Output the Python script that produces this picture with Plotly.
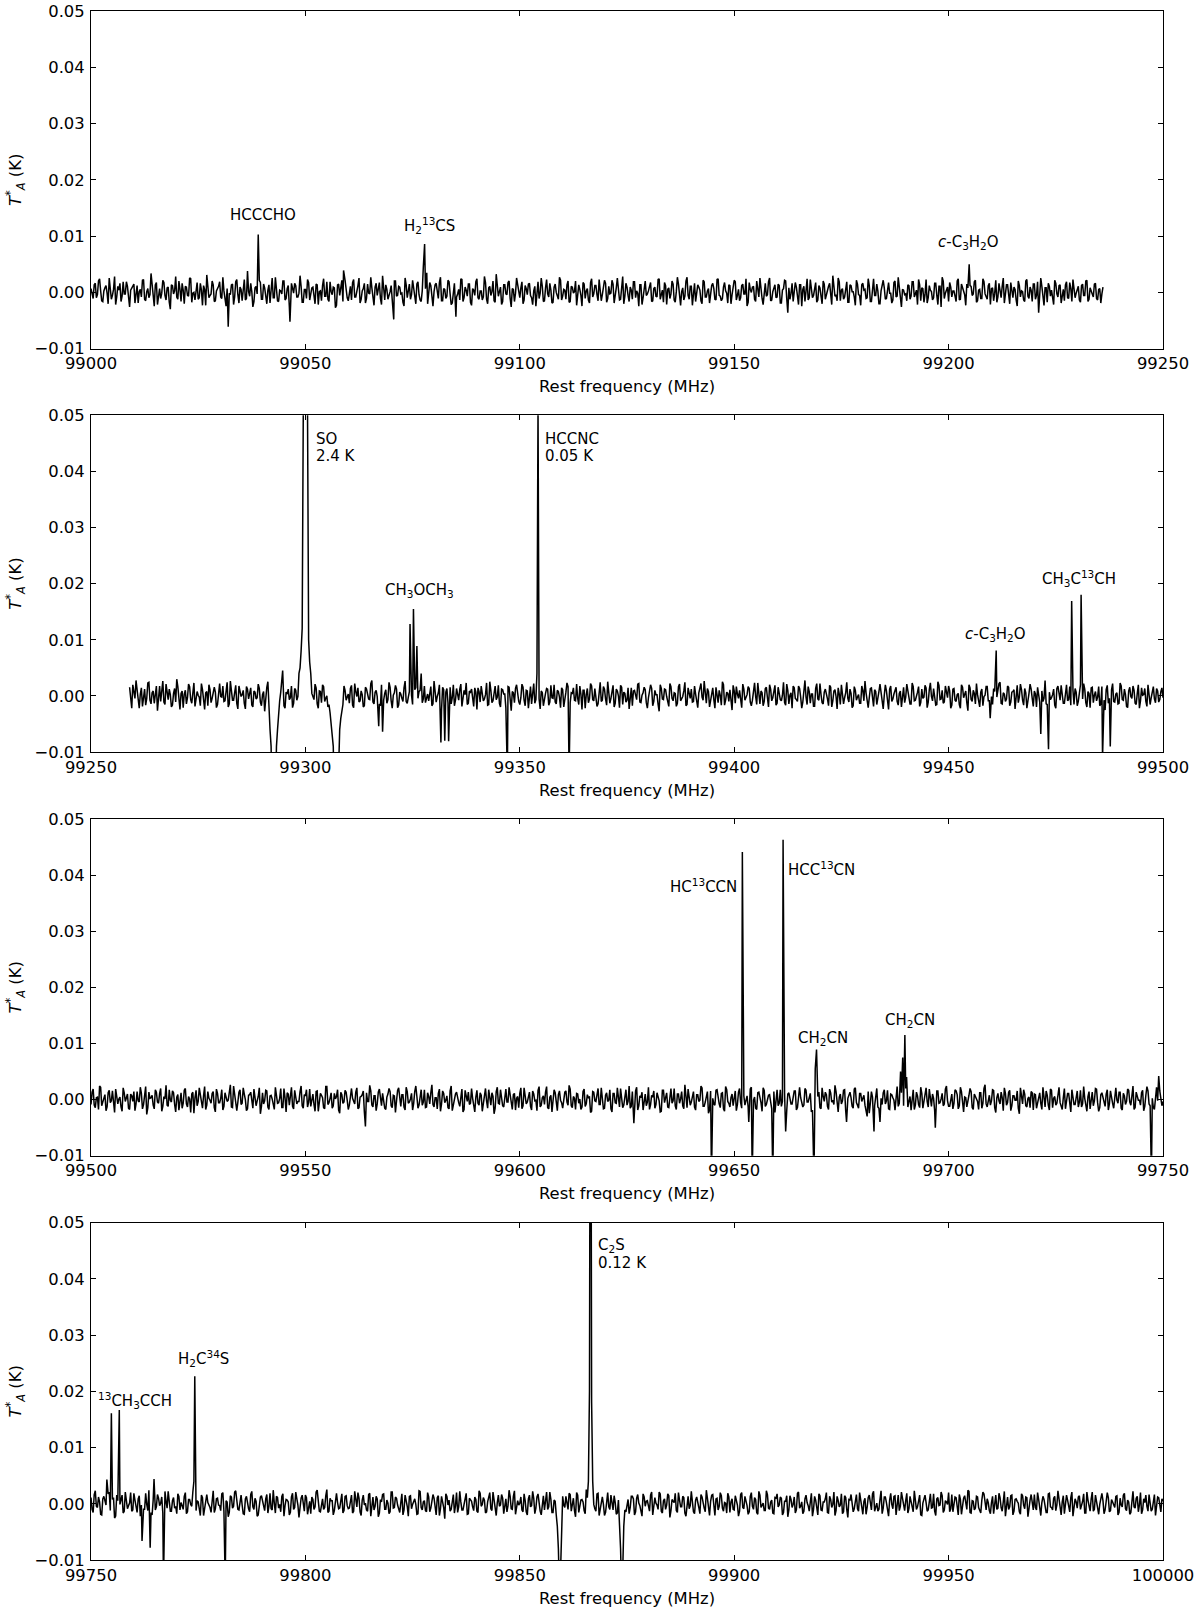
import plotly.graph_objects as go
from plotly.subplots import make_subplots

STEP = 0.5       # MHz spacing within each baseline array
OFFSET = 0.25    # the "b" arrays sit half a step after the "a" arrays

# ---------------- Panel 1 : 99000 - 99250 MHz ----------------
p1_unit = 1.35e-4   # K per baseline count
p1_start = 99000.0
p1_noise_a = [
 5,-8,12,-3,18,-11,2,9,-15,7,-4,21,-6,3,-12,14,-2,8,-19,6,
 11,-5,-14,4,16,-9,1,-7,25,-3,10,-16,5,-1,13,-10,7,-22,9,2,
 -6,15,-12,3,8,-4,19,-13,0,6,-9,12,-17,4,23,-7,-2,10,-11,5,
 14,-8,2,-18,9,-3,11,-6,17,-14,4,7,-10,28,-5,1,-12,8,-4,13,
 -9,6,-15,10,2,-7,20,-11,3,-2,15,-8,9,-19,5,12,-6,-1,8,-13,
 4,17,-10,6,-3,11,-16,2,9,-5,14,-12,1,7,-20,10,-4,16,-8,3,
 -11,8,13,-6,0,19,-9,5,-14,11,-2,6,-17,12,3,-8,22,-10,4,-5,
 9,-13,15,-4,7,-1,-18,10,2,-9,16,-6,11,-3,-12,8,5,-15,13,-7,
 1,12,-8,20,-11,4,-5,14,-16,6,9,-2,-10,17,-7,3,11,-13,5,-4,
 18,-9,2,-6,13,-15,8,1,-11,24,-5,7,-12,10,-3,15,-19,4,-1,9,
 -7,14,-10,5,11,-4,-16,8,3,-8,19,-12,6,-2,12,-14,7,0,-9,16,
 -5,3,10,-13,8,-1,15,-7,4,-18,11,2,-10,13,-6,9,-3,17,-11,5,
 12,-8,-2,16,-14,6,1,-9,21,-5,7,-12,3,14,-7,-1,10,-16,8,-4,
 2,13,-11,7,-6,18,-3,-13,9,4,-8,15,-10,1,11,-17,6,-5,20,-9,
 8,-2,-12,10,3,-15,14,-6,5,-1,12,-9,17,-4,-11,7,2,-14,9,-3,
 16,-10,4,-7,11,-2,-18,13,0,8,-12,6,19,-8,3,-5,14,-11,1,10,
 -6,9,-14,5,15,-3,-9,12,-1,7,-16,10,4,-12,18,-7,2,-4,13,-10,
 6,-15,11,-2,8,-8,22,-5,-11,14,3,-9,7,-13,10,1,-6,16,-3,-17,
 12,4,-7,9,-12,18,-4,2,-15,11,6,-8,13,-1,-10,15,-5,8,-19,3,
 -2,10,-9,14,-6,3,17,-11,5,-3,-14,9,1,-7,12,-16,8,20,-8,4,
 -12,7,2,-5,15,-10,11,-1,-17,6,9,-4,14,-13,3,-8,18,-2,-9,12,
 5,-11,16,-6,1,8,-14,10,-3,13,-7,4,-18,9,2,-10,15,-5,7,-12,
 11,-4,-9,19,-2,6,-13,8,3,-16,12,-6,10,-1,-11,14,-8,5,17,-7,
 3,-10,9,-4,15,-12,6,-2,11,-8,4,-14,7,
]
p1_noise_b = [
 -3,10,-7,15,2,-12,6,-1,19,-9,4,-16,8,12,-5,-2,14,-10,3,7,
 -14,9,1,-6,17,-11,5,-3,11,-18,13,0,-8,16,-4,6,-13,10,-2,21,
 -9,4,12,-15,7,-5,18,-1,-10,13,-7,3,9,-17,11,-4,15,-12,2,8,
 -6,20,-13,5,-1,10,-16,14,-3,7,-11,17,-8,1,12,-19,6,-2,16,-9,
 11,-4,3,-14,19,-7,8,-12,2,15,-10,5,-18,12,-1,9,-6,22,-13,4,
 -8,13,-2,7,-15,10,1,-11,18,-5,-9,14,-3,6,-17,11,4,-12,16,-7,
 3,-10,17,-6,9,-14,2,12,-8,-1,20,-11,7,-4,13,-16,5,10,-9,1,
 -12,15,-5,8,-2,-13,19,-7,11,-3,6,-15,14,-10,2,17,-6,-1,9,-18,
 10,-3,13,-11,5,-8,16,-2,-14,12,-6,4,18,-12,7,-5,11,-17,3,14,
 -7,2,-10,21,-9,6,-4,15,-13,8,1,-16,10,-2,13,-8,5,-12,19,-4,
 6,-15,9,-3,12,-7,2,-18,14,-1,8,-11,17,-6,3,-13,11,-5,20,-10,
 4,-9,15,-12,7,1,-17,10,-4,13,-8,5,-14,18,-2,9,-11,6,-3,16,
 -13,8,-1,11,-6,19,-10,3,-15,12,-4,7,-9,14,2,-18,10,-7,15,-2,
 9,-12,5,-5,17,-9,3,13,-16,6,-2,11,-13,20,-7,1,-10,15,-4,8,
 -17,12,-3,7,-11,16,-6,2,-14,9,5,-10,18,-5,-8,13,-1,10,-15,6,
 14,-4,-11,9,-2,18,-13,4,7,-9,15,-6,1,-16,12,-3,19,-10,5,-7,
 11,-14,3,16,-8,6,-1,-12,13,-5,10,-18,8,2,-10,17,-7,4,-13,9,
 -5,15,-9,2,12,-16,7,-3,19,-11,5,-6,14,-13,9,1,-17,11,-4,10,
 3,-8,18,-12,6,-4,11,-15,2,16,-9,7,-1,-14,13,-6,20,-10,4,-3,
 -11,9,-5,14,-2,-16,10,6,-13,17,-7,3,-10,12,-4,8,-19,15,-1,7,
 13,-6,2,-12,18,-9,5,-3,11,-14,8,-2,16,-11,4,-8,14,-5,9,-16,
 6,-1,-13,12,-7,19,-4,10,-15,3,7,-10,15,-6,1,-12,17,-8,3,11,
 -9,14,-3,8,-17,6,12,-5,-11,16,-2,9,-14,4,10,-7,13,-12,5,-1,
 8,-13,11,-4,16,-9,3,-6,12,-10,5,-2,
]
p1_line_freq = [99032.0, 99039.0, 99046.4, 99058.9, 99070.6, 99077.5, 99077.8, 99078.3,
                99085.1, 99162.5, 99204.8, 99221.0]
p1_line_val = [-0.0061, 0.0103, -0.0052, 0.0039, -0.0048, 0.0045, 0.0086, 0.0035,
               -0.0043, -0.0036, 0.0050, -0.0036]

# ---------------- Panel 2 : 99250 - 99500 MHz ----------------
p2_unit = 1.1e-4
p2_start = 99259.0
p2_noise_a = [
 14,-20,6,25,-9,3,-17,11,-4,22,-13,8,-1,-24,16,5,-10,19,-6,2,
 -15,12,27,-8,4,-19,9,-3,15,-12,21,-5,1,-16,10,-22,7,18,-11,3,
 6,-14,20,-2,-9,13,-18,24,-7,5,-12,16,-1,9,-21,11,3,-15,8,-5,
 19,-10,2,-25,14,-4,8,17,-13,1,-8,23,-16,6,11,-3,-19,12,-7,15,
 -2,9,-17,26,-11,4,-6,13,-20,7,18,-9,0,-14,21,-4,10,-12,5,-23,
 16,-7,3,12,-15,20,-1,-10,8,-18,14,2,-6,25,-13,9,-3,-16,11,4,
 -12,22,-8,1,17,-19,6,-4,13,-9,-2,19,-14,10,-21,7,15,-5,-11,3,
 8,-16,24,-10,5,-3,14,-20,12,0,-13,18,-7,-1,11,-17,9,21,-12,6,
 -4,13,-22,7,16,-8,2,-15,23,-11,4,-6,17,-18,10,3,-9,14,-24,5,
 12,-2,-14,19,-7,9,-20,15,1,-12,26,-5,8,-16,4,11,-10,-3,18,-13,
 7,-19,10,-1,21,-15,5,13,-8,-4,16,-22,9,2,-11,20,-6,12,-17,3,
 -9,15,-5,23,-12,6,-18,11,0,17,-14,4,-7,-21,13,8,-2,19,-10,1,
 14,-11,-3,18,-16,9,2,-25,12,-6,10,-13,20,-4,5,-17,15,-8,-1,22,
 -14,6,11,-9,3,-19,16,-2,24,-12,7,-5,13,-20,1,9,-15,18,-7,4,
 10,-23,8,15,-4,-11,19,-7,2,12,-16,6,-1,21,-13,5,-9,14,-18,11,
 -3,17,-12,4,-8,22,-15,9,1,-20,13,-6,16,-2,-10,25,-14,7,3,-17,
 12,-5,20,-11,6,-1,-16,14,-8,10,-21,3,18,-13,5,-4,11,-19,15,-7,
 2,-12,9,24,-10,-3,13,-17,7,-6,19,-14,1,8,-22,16,-5,11,-9,4,
 -18,14,-2,6,-13,21,-8,3,15,-11,-4,17,-19,10,-1,12,-15,23,-6,9,
 -10,5,16,-20,11,-7,2,-14,18,-3,8,-24,13,-9,4,20,-12,6,-16,1,
 15,-8,-1,12,-17,9,22,-13,3,-5,14,-10,7,-21,17,-2,10,-15,5,-11,
 19,-4,8,-18,2,13,-9,25,-14,6,-3,11,-20,16,-7,1,-12,18,-6,-15,
 9,12,-16,4,-2,20,-11,7,-19,14,1,-8,15,-13,5,-23,17,-4,10,-9,
 3,-13,21,-6,11,-17,8,-1,16,-12,4,-20,13,2,-9,18,-14,6,-5,12,
 -10,7,-3,
]
p2_noise_b = [
 -11,18,-4,9,-20,13,2,-15,21,-7,5,-12,16,-3,-9,24,-14,6,11,-18,
 4,-10,15,-22,8,3,-13,19,-6,12,-17,7,-2,20,-11,5,-16,10,-4,14,
 -19,11,-1,16,-8,22,-13,4,-7,17,-21,9,2,-12,15,-5,13,-18,6,-3,
 12,-16,7,-4,23,-10,1,-14,18,-9,6,13,-20,3,-6,16,-12,9,-1,-15,
 21,-6,10,-17,4,-2,19,-13,8,-11,15,-4,-18,12,5,-9,22,-7,3,-14,
 9,-3,-12,17,-19,7,13,-8,2,-16,11,-5,20,-10,6,-1,-13,18,-7,10,
 -6,14,-20,5,11,-15,3,-9,24,-12,7,1,-17,13,-4,9,-11,16,-2,-8,
 15,-13,4,-1,18,-22,10,6,-11,14,-3,-16,12,-7,19,-5,2,-14,8,11,
 -17,6,13,-10,2,-5,21,-14,9,-8,16,-2,-12,11,3,-19,15,-6,7,-11,
 18,-9,-3,14,-16,8,1,-13,20,-6,10,-21,5,-1,12,-15,17,-4,-10,9,
 -2,13,-18,6,15,-11,4,-7,19,-14,3,9,-20,12,-5,16,-8,1,-13,22,
 -7,11,-15,3,-4,17,-12,8,-19,14,6,-10,13,-2,-16,9,-6,20,-11,5,
 10,-20,7,12,-9,2,-14,18,-5,11,-1,-17,15,-8,4,-12,19,-3,8,-16,
 13,-4,-10,16,-13,5,20,-7,-2,12,-18,9,-6,14,-11,1,23,-15,6,-9,
 -5,17,-12,3,9,-19,11,-1,15,-10,-7,21,-14,4,8,-16,12,-3,18,-8,
 7,-15,14,-6,1,-11,19,-13,5,16,-4,-9,12,-20,10,-2,15,-12,3,-17,
 20,-7,2,-13,11,-5,17,-18,8,-1,13,-14,6,-3,22,-10,4,-16,9,-2,
 -12,16,-8,5,-19,12,-3,10,-14,7,2,-21,18,-6,11,-9,3,14,-15,8,
 4,-11,19,-4,-13,15,-7,6,-17,11,-2,13,-10,21,-8,1,-14,17,-5,-12,
 16,-3,8,-15,12,-9,4,-20,14,3,-11,18,-6,9,-13,2,-18,11,-1,15,
 -8,13,-14,7,-2,20,-12,5,-9,16,-16,6,10,-5,-11,19,-7,12,-20,4,
 11,-17,3,14,-10,8,-4,-13,21,-6,2,-15,12,-1,17,-12,9,-8,15,-3,
 -14,6,-9,18,-5,11,-18,4,13,-11,7,-2,-16,15,-7,10,-12,3,20,-10,
 5,-12,16,-7,2,-19,14,-4,9,-14,18,-8,1,12,-17,6,-3,15,-11,8,
 -6,13,
]
p2_line_freq = [
    99291.5, 99291.75, 99292.0, 99292.25, 99292.5, 99292.75, 99293.0, 99293.25, 99293.5, 99293.75,
    99294.7,
    99298.5, 99298.75, 99299.0, 99299.25, 99299.5, 99299.75, 99300.0, 99300.25, 99300.5, 99300.75,
    99301.0, 99301.25,
    99305.75, 99306.0, 99306.25, 99306.5, 99306.75, 99307.0, 99307.25, 99307.5, 99307.75, 99308.0,
    99308.25,
    99317.1, 99318.0, 99324.4, 99325.2, 99326.0, 99327.0,
    99331.6, 99332.5, 99333.4, 99347.1, 99354.0, 99354.25, 99361.5,
    99459.7, 99461.1, 99471.5, 99473.3, 99478.7, 99480.9, 99485.9, 99487.7]
p2_line_val = [
    -0.004, -0.006, -0.009, -0.02, -0.04, -0.04, -0.02, -0.009, -0.006, -0.003,
    0.0045,
    0.004, 0.005, 0.008, 0.012, 0.05, 0.5, 2.4, 0.5, 0.05, 0.01,
    0.006, 0.004,
    -0.003, -0.005, -0.007, -0.009, -0.02, -0.04, -0.04, -0.02, -0.01, -0.006,
    -0.004,
    -0.0054, -0.0064, 0.0128, 0.0155, 0.0089, 0.004,
    -0.0083, -0.0080, -0.0081, -0.014, 0.004, 0.052, -0.014,
    -0.004, 0.0081, -0.0068, -0.0095, 0.0169, 0.0180, -0.011, -0.0090]

# ---------------- Panel 3 : 99500 - 99750 MHz ----------------
p3_unit = 1.1e-4
p3_start = 99500.0
p3_noise_a = [
 -8,17,-13,4,22,-10,2,-18,11,-5,14,-21,7,1,-12,19,-3,9,-16,6,
 13,-7,-2,20,-15,8,-24,12,3,-9,16,-4,10,-19,5,23,-11,-1,14,-8,
 4,-17,11,-6,18,-12,1,9,-22,15,-3,7,-14,21,-9,2,-6,13,-20,10,
 -5,16,-11,3,-1,24,-13,6,-18,12,-8,19,0,-15,8,-4,17,-10,5,-23,
 11,-2,14,-16,7,-9,20,-6,2,-13,18,-20,9,4,-11,15,-7,-3,22,-14,
 6,-12,17,-1,-8,13,-19,10,3,-15,21,-5,11,-10,1,16,-22,8,-4,12,
 -16,9,2,-7,19,-13,5,14,-11,-3,23,-9,6,-18,12,-1,10,-14,4,18,
 -10,7,-21,15,-2,8,-12,20,-6,1,-17,13,5,-9,16,-4,-13,11,-7,24,
 -12,3,10,-19,14,-5,6,-15,22,-8,9,-1,-11,17,-16,4,12,-6,2,-20,
 15,-9,7,-3,18,-14,1,11,-23,13,-6,16,-10,3,-4,20,-12,8,-17,5,
 10,-15,19,-7,2,-11,14,-2,-18,21,-9,6,12,-13,4,-20,16,-5,8,-1,
 -14,12,-4,23,-10,5,-16,9,1,-12,17,-7,3,-21,13,-2,11,-8,19,-15,
 7,-3,16,-20,10,-6,2,18,-13,5,-9,22,-11,-1,14,-17,6,12,-5,-10,
 20,-8,4,-14,11,-2,-19,15,7,-12,3,-6,18,-16,9,1,-10,24,-13,6,
 -4,13,-17,8,-1,19,-11,5,-22,14,2,-9,16,-7,10,-15,21,-3,-12,9,
 3,-18,12,-5,17,-9,6,-13,20,-1,-14,11,4,-19,15,-8,7,-2,13,-21,
 16,-6,-11,22,-15,9,1,-7,14,-17,10,3,-12,18,-4,6,-20,12,-9,5,
 -13,19,-3,8,-16,11,-1,23,-10,4,-7,15,-18,2,12,-11,17,-5,-14,10,
 1,-9,14,-22,13,-4,7,-12,19,-8,16,-2,-15,9,3,-17,21,-6,11,-10,
 18,-12,5,-1,-16,12,-8,20,-14,6,-3,17,-11,2,-19,14,-5,10,-7,22,
 -11,4,-15,16,8,-10,13,-20,3,-4,18,-13,9,1,-16,11,-6,24,-12,7,
 -2,15,-21,10,-7,3,19,-9,12,-18,6,-1,14,-23,8,16,-10,2,-13,11,
 9,-14,4,-6,20,-12,7,-17,15,2,-9,13,-5,-16,18,-3,10,-20,6,-8,
 14,-4,-12,21,-10,5,-15,12,-2,17,-19,8,3,-11,16,-7,1,-14,19,-6,
 12,-17,6,-3,15,-9,22,-13,4,-1,11,-18,7,14,-10,2,-16,20,-8,5,
 -3,
]
p3_noise_b = [
 12,-9,3,-16,20,-5,8,-12,15,-2,-10,17,-7,4,-19,11,6,-14,9,-3,
 -18,13,-4,10,-8,21,-13,2,7,-15,12,-6,18,-11,1,-9,16,-4,11,-20,
 8,-2,-14,15,-7,5,-21,12,3,-10,19,-8,6,-16,13,-1,10,-13,17,-5,
 2,-17,11,-3,14,-12,22,-9,-4,16,-6,9,-18,7,12,-14,4,-2,19,-11,
 -7,15,-12,6,1,-16,10,-5,18,-13,3,11,-9,20,-15,5,-3,13,-10,8,
 16,-4,-11,9,-19,14,-2,7,-13,21,-8,2,-14,10,5,-17,12,-6,15,-1,
 -9,18,-5,12,-15,4,8,-20,11,-3,14,-12,6,-7,17,-10,1,-16,9,13,
 -13,6,-2,19,-11,8,-17,13,-4,10,-6,22,-14,3,-9,16,-12,5,11,-8,
 3,-15,17,-7,10,-1,-13,14,-18,6,12,-5,9,-20,15,-3,-8,18,-11,4,
 -6,11,-19,13,-2,16,-9,5,-14,20,-7,1,-12,17,-4,8,-16,10,2,-13,
 19,-10,6,-4,12,-17,9,-1,15,-12,3,-8,21,-15,7,-2,11,-18,14,-5,
 -3,14,-9,17,-13,2,10,-6,-16,13,-11,8,4,-19,12,-3,18,-8,6,-14,
 11,-1,-15,10,-5,19,-12,6,-9,16,-3,-14,13,-7,20,-10,3,-17,9,-4,
 -16,7,14,-8,2,-20,15,-5,11,-13,18,-2,-10,9,-6,13,-15,4,17,-9,
 5,-12,8,-3,22,-11,-4,13,-17,10,-7,15,-1,-13,11,-19,16,-6,3,-10,
 14,-8,18,-14,6,-2,-12,17,-9,4,-16,12,-5,19,-11,1,8,-15,13,-6,
 -10,16,-3,9,-18,11,-7,2,14,-13,20,-6,-9,15,-4,10,-17,7,-1,12,
 -15,5,12,-11,17,-4,-8,13,-20,9,-2,16,-12,6,3,-14,19,-9,10,-3,
 7,-19,13,-6,4,-10,18,-14,2,11,-7,15,-16,8,-1,12,-11,21,-5,-8,
 13,-3,-17,16,-9,6,-13,10,-4,19,-12,3,9,-18,14,-6,1,-10,17,-2,
 -11,9,-6,14,-15,20,-8,4,-12,7,13,-16,5,-3,11,-14,18,-7,2,-9,
 16,-13,3,-2,12,-18,10,-5,15,-10,6,-1,-14,19,-7,9,-12,4,13,-17,
 8,-4,11,-16,1,14,-9,17,-13,5,-6,20,-11,3,-15,10,-2,16,-8,6,
 -12,15,-7,2,-19,13,4,-10,18,-5,-13,11,-3,9,-17,14,-6,7,-1,12,
 -14,10,-8,17,-4,6,-16,12,-1,-9,15,-11,21,-7,3,-13,8,-2,14,-10,
]
p3_line_freq = [99564.0, 99626.6, 99644.7, 99651.9, 99653.4, 99654.2, 99659.0, 99661.4,
                99662.0, 99668.6, 99668.9, 99669.2, 99676.2, 99681.0, 99682.6, 99684.0,
                99688.8, 99689.3, 99689.8, 99690.2, 99696.9, 99747.3, 99749.0]
p3_line_val = [-0.0048, -0.0042, -0.014, 0.0441, -0.004, -0.014, -0.014, 0.0463,
               -0.0057, -0.014, 0.0055, 0.0089, -0.004, -0.003, -0.0057, -0.004,
               0.005, 0.0075, 0.0115, 0.004, -0.0050, -0.014, 0.0042]

# ---------------- Panel 4 : 99750 - 100000 MHz ----------------
p4_unit = 1.1e-4
p4_start = 99750.0
p4_noise_a = [
 10,-14,21,-6,3,-18,12,-2,16,-11,7,-23,14,-4,9,-15,19,-8,1,-12,
 17,-5,8,-20,13,-9,-1,22,-14,6,-10,15,-3,11,-17,4,20,-12,5,-7,
 -16,12,2,-9,18,-13,7,-4,24,-11,3,-19,10,-6,15,-1,-14,21,-8,9,
 -3,16,-12,5,-21,13,-7,19,-2,-10,14,-16,8,1,-13,20,-9,4,-18,11,
 6,-11,15,-4,-8,22,-15,10,-1,12,-20,7,3,-14,17,-6,11,-22,9,-2,
 14,-17,4,11,-9,19,-3,-13,8,-6,23,-12,5,-18,10,2,-7,16,-11,13,
 -8,3,-15,20,-5,9,-19,14,1,-12,17,-4,-10,12,-21,7,15,-9,6,-16,
 19,-7,11,-2,-14,16,-10,5,-20,13,-1,8,-17,21,-6,3,-11,18,-13,2,
 9,-18,13,-8,4,-24,12,6,-9,15,-3,-14,20,-10,1,17,-16,7,-5,11,
 -12,21,-4,10,-15,3,18,-11,7,-19,14,-2,9,-7,-13,22,-8,12,-17,5,
 1,-10,16,-13,8,-5,20,-16,11,-1,-18,13,4,-9,19,-14,6,-3,15,-20,
 12,-6,-2,17,-12,9,-21,14,-4,7,-11,23,-15,2,10,-8,16,-19,5,-1,
 -14,18,-9,3,13,-17,6,-7,21,-10,1,-16,12,8,-13,15,-3,-20,11,4,
 -6,14,-18,10,-2,19,-12,5,-9,16,-22,7,2,-11,18,-5,12,-15,3,-8,
 20,-13,6,-1,-16,11,-7,22,-10,4,15,-19,9,-4,13,-12,1,17,-14,8,
 -10,5,-20,15,-6,12,-3,-13,18,-9,7,-17,14,-1,-11,21,-7,3,-15,10,
 16,-2,9,-14,4,-21,13,-6,11,-10,19,-4,-16,8,2,-12,17,-9,6,-18,
 13,-11,3,18,-15,7,-1,-19,12,-5,16,-13,10,-22,6,4,-8,15,-12,1,
 -17,9,-6,14,-10,20,-3,-12,7,-16,11,2,-20,17,-8,13,-4,-11,19,-7,
 5,-15,12,-3,21,-9,8,-18,1,14,-12,6,-7,16,-19,10,-2,13,-10,3,
 18,-8,-13,11,-4,15,-17,9,-1,22,-14,5,-10,12,-6,-15,19,-3,8,-11,
 2,-16,14,-7,10,-12,20,-5,-9,13,-18,7,4,-13,16,-2,11,-21,6,-4,
 15,-10,7,-19,12,-1,-14,17,-6,9,-11,21,-8,3,-16,14,-5,10,-20,8,
 -7,13,-3,16,-15,6,-12,19,-9,2,-17,11,5,-10,18,-13,7,-4,12,-18,
 9,-5,17,-11,3,-14,20,-7,12,-2,-16,8,14,-12,1,-9,15,-6,10,-13,
 4,
]
p4_noise_b = [
 -9,15,-4,11,-17,8,2,-13,19,-6,10,-20,5,-1,14,-12,7,-3,18,-10,
 6,-14,13,-2,-9,17,-11,4,-18,12,-5,9,1,-15,20,-7,3,-12,10,-4,
 16,-10,-3,12,-16,7,-1,19,-13,5,-8,14,-19,10,2,-6,13,-14,8,-2,
 -11,18,-6,3,-14,11,-4,21,-9,6,-2,-17,12,-8,15,-5,9,-20,4,13,
 -4,8,-15,17,-10,1,12,-7,-13,16,-3,6,-18,11,-9,19,-2,-6,14,-12,
 10,-1,-16,7,-5,22,-12,3,-9,13,-14,9,5,-11,17,-8,2,-15,12,-3,
 -7,14,-12,4,18,-13,6,-2,-10,15,-20,11,-4,8,-15,3,16,-9,1,-13,
 19,-6,9,-11,2,-18,14,-4,12,-8,6,-1,-16,20,-10,5,-13,11,-7,15,
 -3,10,-19,12,-6,16,-2,-12,8,-15,18,-5,3,-10,13,-17,9,4,-11,7,
 -14,17,-1,6,-13,10,-8,19,-11,2,-4,15,-16,8,-3,12,-9,21,-6,-2,
 11,-13,5,-18,14,-3,9,-7,16,-12,1,-10,19,-5,7,-14,4,13,-17,6,
 -2,12,-9,15,-4,-11,18,-14,6,3,-16,10,-7,13,-1,-12,17,-8,11,-19,
 8,-5,14,-10,2,-15,11,-3,20,-13,7,-6,12,-18,9,1,-11,16,-4,5,
 -12,19,-7,1,-9,16,-15,8,-2,13,-11,4,17,-14,6,-5,10,-20,12,-3,
 7,-16,11,-6,15,-1,-13,9,-19,14,-4,8,-10,18,-7,2,-15,11,3,-9,
 13,-2,-12,18,-8,5,-17,12,-4,10,-14,20,-6,1,-11,15,-9,6,-16,9,
 -5,11,-18,4,13,-10,7,-1,-15,17,-7,3,-12,14,-3,9,-20,12,-6,16,
 -10,3,8,-14,12,-6,19,-11,5,-2,-16,13,-9,7,15,-13,2,-8,18,-5,
 4,-17,10,-3,16,-12,1,-9,21,-7,11,-15,6,-1,12,-18,14,-4,9,-11,
 17,-8,3,-13,9,-5,14,-19,11,2,-10,16,-6,-12,8,-3,19,-14,5,-1,
 -13,15,-4,10,-18,7,-2,13,-9,20,-15,4,-7,11,-11,6,16,-10,2,-16,
 12,-1,-9,17,-6,3,-20,11,-5,14,-12,8,1,-17,13,-8,10,-3,15,-10,
 -6,18,-11,2,7,-14,16,-5,-10,12,-2,9,-18,13,-4,6,-13,19,-8,3,
 11,-9,4,-15,19,-3,8,-12,14,-7,-1,17,-16,5,10,-11,3,-6,13,-14,
 -2,14,-8,6,-17,12,-5,9,-13,18,-10,2,-4,15,-12,7,-19,11,-1,8,
]
p4_line_freq = [99753.7, 99754.75, 99756.6, 99761.9, 99763.8, 99764.7, 99766.9, 99774.0,
                99774.2, 99781.3,
                99858.5, 99858.75, 99859.0, 99859.25, 99859.5, 99859.75,
                99866.0, 99866.25, 99866.5, 99866.75, 99867.0,
                99873.25, 99873.5, 99873.75, 99874.0, 99874.25]
p4_line_val = [0.0043, 0.0161, 0.0167, -0.0066, -0.0078, 0.0044, -0.014, 0.004,
               0.0227, -0.014,
               -0.002, -0.004, -0.008, -0.016, -0.012, -0.004,
               0.004, 0.02, 0.12, 0.018, 0.004,
               -0.003, -0.008, -0.016, -0.012, -0.004]

x_ranges = [[99000, 99250], [99250, 99500], [99500, 99750], [99750, 100000]]
y_tickvals = [-0.01, 0.0, 0.01, 0.02, 0.03, 0.04, 0.05]
y_ticktext = ["\u22120.01", "0.00", "0.01", "0.02", "0.03", "0.04", "0.05"]

# (panel, frequency, T_A, text, anchor)
labels = [
    (1, 99040.0, 0.0138, "HCCCHO", "center"),
    (1, 99079.0, 0.0119, "H<sub>2</sub><sup>13</sup>CS", "center"),
    (1, 99204.7, 0.0089, "<i>c</i>-C<sub>3</sub>H<sub>2</sub>O", "center"),
    (2, 99302.0, 0.04578, "SO", "left"),
    (2, 99302.0, 0.04275, "2.4 K", "left"),
    (2, 99355.4, 0.04578, "HCCNC", "left"),
    (2, 99355.4, 0.04275, "0.05 K", "left"),
    (2, 99326.5, 0.01875, "CH<sub>3</sub>OCH<sub>3</sub>", "center"),
    (2, 99461.05, 0.01085, "<i>c</i>-C<sub>3</sub>H<sub>2</sub>O", "center"),
    (2, 99480.4, 0.02095, "CH<sub>3</sub>C<sup>13</sup>CH", "center"),
    (3, 99642.8, 0.03813, "HC<sup>13</sup>CCN", "center"),
    (3, 99670.3, 0.04105, "HCC<sup>13</sup>CN", "center"),
    (3, 99670.8, 0.01095, "CH<sub>2</sub>CN", "center"),
    (3, 99691.1, 0.01403, "CH<sub>2</sub>CN", "center"),
    (4, 99751.2, 0.01829, "<sup>13</sup>CH<sub>3</sub>CCH", "left"),
    (4, 99776.3, 0.02588, "H<sub>2</sub>C<sup>34</sup>S", "center"),
    (4, 99867.7, 0.04591, "C<sub>2</sub>S", "left"),
    (4, 99867.7, 0.04289, "0.12 K", "left"),
]


def build(start, unit, noise_a, noise_b, lf, lv):
    pts = []
    for arr, s in ((noise_a, start), (noise_b, start + OFFSET)):
        for i, n in enumerate(arr):
            f = s + STEP * i
            if all(abs(f - g) > 0.12 for g in lf):
                pts.append((f, n * unit))
    pts += list(zip(lf, lv))
    pts.sort()
    return [p[0] for p in pts], [p[1] for p in pts]


panels = [
    build(p1_start, p1_unit, p1_noise_a, p1_noise_b, p1_line_freq, p1_line_val),
    build(p2_start, p2_unit, p2_noise_a, p2_noise_b, p2_line_freq, p2_line_val),
    build(p3_start, p3_unit, p3_noise_a, p3_noise_b, p3_line_freq, p3_line_val),
    build(p4_start, p4_unit, p4_noise_a, p4_noise_b, p4_line_freq, p4_line_val),
]

FONT = "DejaVu Sans"
fig = make_subplots(rows=4, cols=1)
domains = [[0.78199, 1.0], [0.52163, 0.73899], [0.26101, 0.47837], [0.0, 0.21776]]

for k, (xs, ys) in enumerate(panels):
    fig.add_trace(go.Scatter(x=xs, y=ys, mode="lines",
                             line=dict(color="black", width=1.5),
                             showlegend=False, hoverinfo="skip"),
                  row=k + 1, col=1)
    xr = x_ranges[k]
    xt = list(range(xr[0], xr[1] + 1, 50))
    fig.update_xaxes(range=xr, tickvals=xt, ticktext=[str(v) for v in xt],
                     ticks="inside", ticklen=5, tickwidth=1, tickcolor="black",
                     showline=True, linecolor="black", linewidth=1, mirror="ticks",
                     showgrid=False, zeroline=False, automargin=False,
                     ticklabeloverflow="allow",
                     tickfont=dict(family=FONT, size=16.4, color="black"),
                     title=dict(text="Rest frequency (MHz)", standoff=8,
                                font=dict(family=FONT, size=16.4, color="black")),
                     domain=[0, 1], row=k + 1, col=1)
    fig.update_yaxes(range=[-0.01, 0.05], tickvals=y_tickvals, ticktext=y_ticktext,
                     ticks="inside", ticklen=5, tickwidth=1, tickcolor="black",
                     showline=True, linecolor="black", linewidth=1, mirror="ticks",
                     showgrid=False, zeroline=False, automargin=False,
                     ticklabelstandoff=2, ticklabeloverflow="allow",
                     tickfont=dict(family=FONT, size=16.4, color="black"),
                     title=dict(text="<i>T</i><sup>*</sup><sub><i>A</i></sub> (K)", standoff=8,
                                font=dict(family=FONT, size=16.4, color="black")),
                     domain=domains[k], row=k + 1, col=1)

for (p, fx, fy, txt, anc) in labels:
    sfx = "" if p == 1 else str(p)
    fig.add_annotation(x=fx, y=fy, xref="x" + sfx, yref="y" + sfx, text=txt,
                       showarrow=False, xanchor=anc, yanchor="middle", align=anc,
                       font=dict(family=FONT, size=15, color="black"))

fig.update_layout(width=1200, height=1611, paper_bgcolor="white", plot_bgcolor="white",
                  margin=dict(l=91, r=37, t=11, b=51))
# remove the default page-body margin so the figure sits at the window's top-left corner
fig.write_html("out.html", config={"displayModeBar": False},
               post_script="document.body.style.margin='0';")
